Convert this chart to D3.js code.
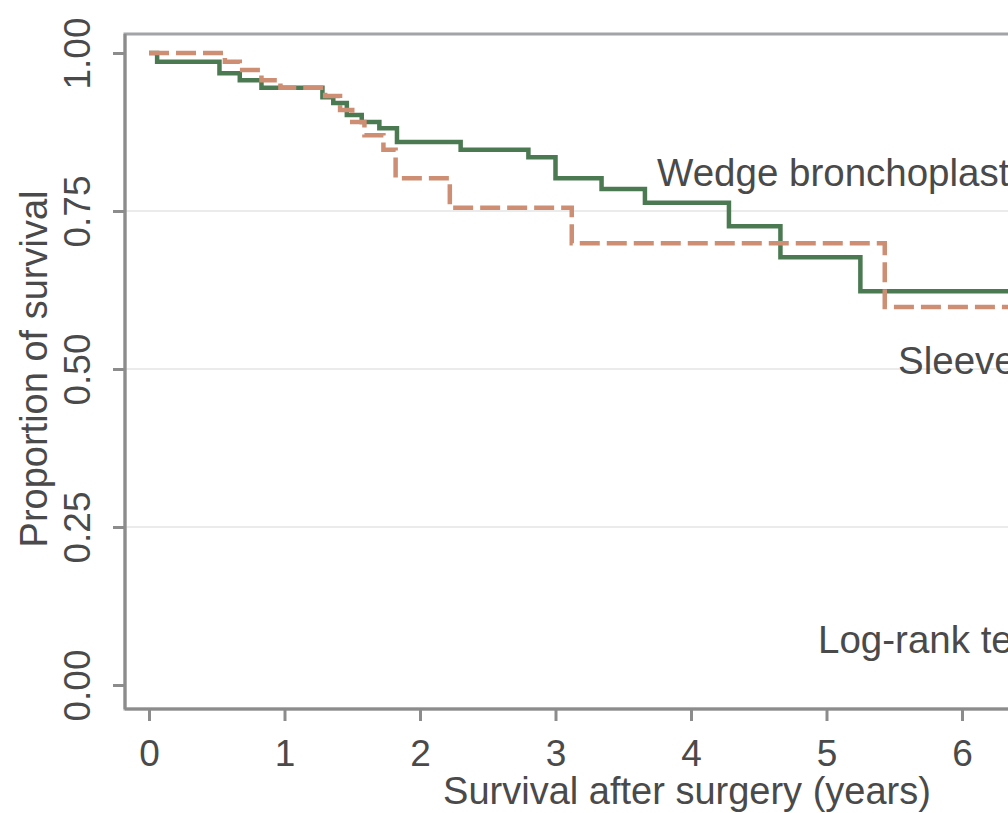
<!DOCTYPE html>
<html>
<head>
<meta charset="utf-8">
<script src="https://cdn.jsdelivr.net/npm/d3@7"></script>
<style>
  html, body { margin: 0; padding: 0; background: #ffffff; overflow: hidden; }
  svg { display: block; }
  text { font-family: "Liberation Sans", Arial, sans-serif; fill: #4a4a4a; }
</style>
</head>
<body>
<svg id="chart" width="1008" height="813"></svg>
<script>
// ---- data ----
const wedgeTime = [0, 0.06, 0.52, 0.67, 0.83, 1.28, 1.36, 1.46, 1.57, 1.70, 1.83, 2.30, 2.80, 3.00, 3.34, 3.66, 4.28, 4.66, 5.25, 7.4];
const wedgeSurv = [1, 0.986, 0.968, 0.957, 0.945, 0.930, 0.921, 0.902, 0.891, 0.881, 0.859, 0.847, 0.835, 0.802, 0.785, 0.763, 0.726, 0.677, 0.623, 0.623];
const sleeveTime = [0, 0.56, 0.67, 0.83, 0.97, 1.30, 1.41, 1.50, 1.59, 1.73, 1.82, 2.22, 3.12, 5.43, 7.4];
const sleeveSurv = [1, 0.986, 0.973, 0.957, 0.945, 0.932, 0.910, 0.891, 0.870, 0.847, 0.802, 0.755, 0.699, 0.598, 0.598];
const xTicks = [0, 1, 2, 3, 4, 5, 6];
const yTicks = [0, 0.25, 0.5, 0.75, 1];
const yTickLabels = ["0.00", "0.25", "0.50", "0.75", "1.00"];
const xTitle = "Survival after surgery (years)";
const yTitle = "Proportion of survival";
const wedgeLabel = "Wedge bronchoplasty";
const sleeveLabel = "Sleeve lobectomy";
const testLabel = "Log-rank test: P = 0.52";

// ---- layout ----
const svg = d3.select("#chart");
const x = d3.scaleLinear().domain([0, 6]).range([149, 962]);
const y = d3.scaleLinear().domain([0, 1]).range([685, 53]);
const frameLeft = 125, frameTop = 34, frameBottom = 709, frameRight = 1251;

// grid lines
svg.append("g").selectAll("line")
  .data(yTicks.filter(d => d > 0 && d < 1))
  .join("line")
  .attr("x1", frameLeft).attr("x2", frameRight)
  .attr("y1", d => y(d)).attr("y2", d => y(d))
  .attr("stroke", "#ebebeb").attr("stroke-width", 2);

// frame
svg.append("rect")
  .attr("x", frameLeft).attr("y", frameTop)
  .attr("width", frameRight - frameLeft).attr("height", frameBottom - frameTop)
  .attr("fill", "none").attr("stroke", "#a2a4a8").attr("stroke-width", 3);

// y axis
const yAxis = d3.axisLeft(y).tickValues(yTicks)
  .tickFormat((d, i) => yTickLabels[i]).tickSize(12).tickPadding(0);
const gy = svg.append("g").attr("transform", `translate(${frameLeft},0)`).call(yAxis);
gy.select(".domain").remove();
gy.selectAll(".tick line").attr("stroke", "#8c8c8c").attr("stroke-width", 3);
gy.selectAll(".tick text")
  .attr("x", null).attr("dy", null)
  .attr("transform", "translate(-35,0) rotate(-90)")
  .attr("text-anchor", "middle")
  .attr("y", 0)
  .style("font-size", "37px");

// x axis
const xAxis = d3.axisBottom(x).tickValues(xTicks).tickFormat(d3.format("d")).tickSize(12).tickPadding(0);
const gx = svg.append("g").attr("transform", `translate(0,${frameBottom})`).call(xAxis);
gx.select(".domain").remove();
gx.selectAll(".tick line").attr("stroke", "#8c8c8c").attr("stroke-width", 3);
gx.selectAll(".tick text").attr("dy", null).attr("y", 57).style("font-size", "37px");

// axis lines
svg.append("line").attr("x1", frameLeft).attr("x2", frameLeft).attr("y1", frameTop).attr("y2", frameBottom)
  .attr("stroke", "#8c8c8c").attr("stroke-width", 3);
svg.append("line").attr("x1", frameLeft).attr("x2", frameRight).attr("y1", frameBottom).attr("y2", frameBottom)
  .attr("stroke", "#8c8c8c").attr("stroke-width", 3);

// titles
svg.append("text").attr("x", 687).attr("y", 804)
  .attr("text-anchor", "middle").style("font-size", "38px").text(xTitle);
svg.append("text")
  .attr("transform", `translate(47,${y(0.5)}) rotate(-90)`)
  .attr("text-anchor", "middle").style("font-size", "38px").text(yTitle);

// curves
const line = d3.line().curve(d3.curveStepAfter).x(d => x(d[0])).y(d => y(d[1]));
svg.append("path").datum(d3.zip(wedgeTime, wedgeSurv))
  .attr("d", line).attr("fill", "none")
  .attr("stroke", "#4b7a52").attr("stroke-width", 4.5);
svg.append("path").datum(d3.zip(sleeveTime, sleeveSurv))
  .attr("d", line).attr("fill", "none")
  .attr("stroke", "#cd8e74").attr("stroke-width", 4.5)
  .attr("stroke-dasharray", "20,7");

// annotations (cut by the right edge, as in the reference)
svg.append("text").attr("x", 657).attr("y", 186).style("font-size", "38.5px").text(wedgeLabel);
svg.append("text").attr("x", 898).attr("y", 374).style("font-size", "38.5px").text(sleeveLabel);
svg.append("text").attr("x", 818).attr("y", 653).style("font-size", "38.5px").text(testLabel);
</script>
</body>
</html>
